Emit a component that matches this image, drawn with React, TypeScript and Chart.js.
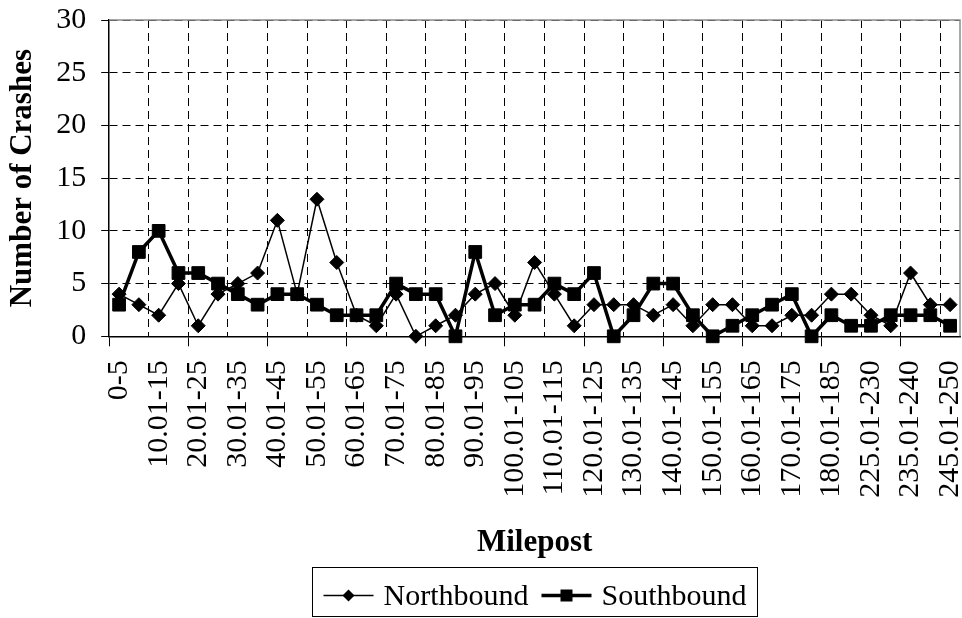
import React, { useEffect, useRef } from "react";
import { Chart, registerables } from "chart.js";

Chart.register(...registerables);

const CATEGORIES = [
  "0-5", "5.01-10", "10.01-15", "15.01-20", "20.01-25", "25.01-30", "30.01-35", "35.01-40",
  "40.01-45", "45.01-50", "50.01-55", "55.01-60", "60.01-65", "65.01-70", "70.01-75", "75.01-80",
  "80.01-85", "85.01-90", "90.01-95", "95.01-100", "100.01-105", "105.01-110", "110.01-115",
  "115.01-120", "120.01-125", "125.01-130", "130.01-135", "135.01-140", "140.01-145",
  "145.01-150", "150.01-155", "155.01-160", "160.01-165", "165.01-170", "170.01-175",
  "175.01-180", "180.01-185", "185.01-190", "225.01-230", "230.01-235", "235.01-240",
  "240.01-245", "245.01-250",
];

const NORTHBOUND = [
  4, 3, 2, 5, 1, 4, 5, 6, 11, 4, 13, 7, 2, 1, 4,
  0, 1, 2, 4, 5, 2, 7, 4, 1, 3, 3, 3, 2, 3,
  1, 3, 3, 1, 1, 2, 2, 4, 4, 2, 1, 6, 3, 3,
];

const SOUTHBOUND = [
  3, 8, 10, 6, 6, 5, 4, 3, 4, 4, 3, 2, 2, 2, 5,
  4, 4, 0, 8, 2, 3, 3, 5, 4, 6, 0, 2, 5, 5,
  2, 0, 1, 2, 3, 4, 0, 2, 1, 1, 2, 2, 2, 1,
];

const Y_MIN = 0;
const Y_MAX = 30;
const Y_STEP = 5;

const SERIES_NAMES = ["Northbound", "Southbound"];
const Y_TITLE = "Number of Crashes";
const X_TITLE = "Milepost";

const FONT = "'Times New Roman', 'Liberation Serif', serif";

const frameAndLegend = {
  id: "frameAndLegend",
  afterDraw(chart: any) {
    const { ctx, chartArea } = chart;
    ctx.save();
    // gray plot frame (top and right)
    ctx.strokeStyle = "#8c8c8c";
    ctx.lineWidth = 1.5;
    ctx.setLineDash([]);
    ctx.beginPath();
    ctx.moveTo(chartArea.left, chartArea.top);
    ctx.lineTo(chartArea.right, chartArea.top);
    ctx.lineTo(chartArea.right, chartArea.bottom);
    ctx.stroke();

    // legend
    const fontSize = 30;
    ctx.font = `${fontSize}px ${FONT}`;
    const lineLen = 50;
    const gapLT = 10;
    const itemGap = 13;
    const pad = 11;
    const widths = SERIES_NAMES.map((n) => ctx.measureText(n).width);
    const total = pad * 2 + widths.reduce((a, w) => a + lineLen + gapLT + w, 0) + itemGap;
    const cx = (chartArea.left + chartArea.right) / 2;
    const boxLeft = Math.round(cx - total / 2) + 0.5;
    const boxTop = chart.height - 50.5;
    const boxH = 49;
    ctx.strokeStyle = "#000";
    ctx.lineWidth = 1;
    ctx.strokeRect(boxLeft, boxTop, total, boxH);

    const midY = boxTop + 28;
    let x = boxLeft + pad;
    chart.data.datasets.forEach((ds: any, i: number) => {
      ctx.strokeStyle = "#000";
      ctx.fillStyle = "#000";
      ctx.lineWidth = ds.borderWidth;
      ctx.beginPath();
      ctx.moveTo(x, midY);
      ctx.lineTo(x + lineLen, midY);
      ctx.stroke();
      const mx = x + lineLen / 2;
      ctx.beginPath();
      if (i === 0) {
        const r = 6;
        ctx.moveTo(mx, midY - r);
        ctx.lineTo(mx + r, midY);
        ctx.lineTo(mx, midY + r);
        ctx.lineTo(mx - r, midY);
        ctx.closePath();
      } else {
        const s = 6;
        ctx.rect(mx - s, midY - s, s * 2, s * 2);
      }
      ctx.fill();
      x += lineLen + gapLT;
      ctx.textBaseline = "alphabetic";
      ctx.textAlign = "left";
      ctx.fillText(ds.label, x, boxTop + 37);
      x += widths[i] + itemGap;
    });
    ctx.restore();
  },
};

export default function App() {
  const canvasRef = useRef<HTMLCanvasElement | null>(null);

  useEffect(() => {
    const canvas = canvasRef.current;
    if (!canvas) return;
    const chart = new Chart(canvas, {
      type: "line",
      data: {
        labels: CATEGORIES,
        datasets: [
          {
            label: SERIES_NAMES[0],
            data: NORTHBOUND,
            borderColor: "#000",
            backgroundColor: "#000",
            borderWidth: 1.5,
            pointStyle: "rectRot",
            pointRadius: 7,
            pointHoverRadius: 7,
            pointBackgroundColor: "#000",
            pointBorderColor: "#000",
            pointBorderWidth: 1,
            tension: 0,
            clip: false as any,
          },
          {
            label: SERIES_NAMES[1],
            data: SOUTHBOUND,
            borderColor: "#000",
            backgroundColor: "#000",
            borderWidth: 3.5,
            pointStyle: "rect",
            pointRadius: 9,
            pointHoverRadius: 9,
            pointBackgroundColor: "#000",
            pointBorderColor: "#000",
            pointBorderWidth: 1,
            tension: 0,
            clip: false as any,
          },
        ],
      },
      options: {
        responsive: false,
        animation: false,
        devicePixelRatio: 1,
        layout: { autoPadding: false, padding: { top: 20, right: 2, bottom: 52, left: 0 } },
        plugins: {
          legend: { display: false },
          tooltip: { enabled: false },
        },
        scales: {
          x: {
            type: "category",
            offset: true,
            afterFit: (s: any) => {
              s.paddingLeft = 0;
              s.paddingRight = 0;
            },
            grid: {
              offset: true,
              display: true,
              drawOnChartArea: true,
              drawTicks: true,
              tickLength: 10,
              lineWidth: 1,
              color: (c: any) =>
                typeof c.index === "number" && c.index > 0 && c.index % 2 === 0 ? "#000" : "rgba(0,0,0,0)",
              tickColor: (c: any) =>
                typeof c.index === "number" && c.index % 4 === 0 ? "#000" : "rgba(0,0,0,0)",
              tickBorderDash: [],
            },
            border: { display: true, color: "#000", width: 1.5, dash: [8, 5] },
            ticks: {
              autoSkip: false,
              minRotation: 90,
              maxRotation: 90,
              padding: 14,
              color: "#000",
              font: { family: FONT, size: 30 },
              callback: (_v: any, index: number) => (index % 2 === 0 ? CATEGORIES[index] : ""),
            },
            title: {
              display: true,
              text: X_TITLE,
              color: "#000",
              font: { family: FONT, size: 31, weight: "bold" },
              padding: { top: 13, bottom: 4 },
            },
          },
          y: {
            min: Y_MIN,
            max: Y_MAX,
            afterFit: (s: any) => {
              s.paddingTop = 0;
              s.paddingBottom = 0;
            },
            grid: {
              display: true,
              drawOnChartArea: true,
              drawTicks: true,
              tickLength: 8,
              lineWidth: 1,
              color: (c: any) => (c.index > 0 ? "#000" : "rgba(0,0,0,0)"),
              tickColor: "#000",
              tickBorderDash: [],
            },
            border: { display: true, color: "#000", width: 1.5, dash: [8, 5] },
            ticks: {
              stepSize: Y_STEP,
              padding: 15,
              color: "#000",
              font: { family: FONT, size: 30 },
            },
            title: {
              display: true,
              text: Y_TITLE,
              color: "#000",
              font: { family: FONT, size: 31, weight: "bold" },
              padding: { top: 4, bottom: 0 },
            },
          },
        },
      },
      plugins: [frameAndLegend],
    });
    return () => chart.destroy();
  }, []);

  return (
    <div style={{ position: "absolute", left: 0, top: 0, width: 962, height: 618, background: "#fff" }}>
      <canvas ref={canvasRef} width={962} height={618} style={{ display: "block", width: 962, height: 618 }} />
    </div>
  );
}
